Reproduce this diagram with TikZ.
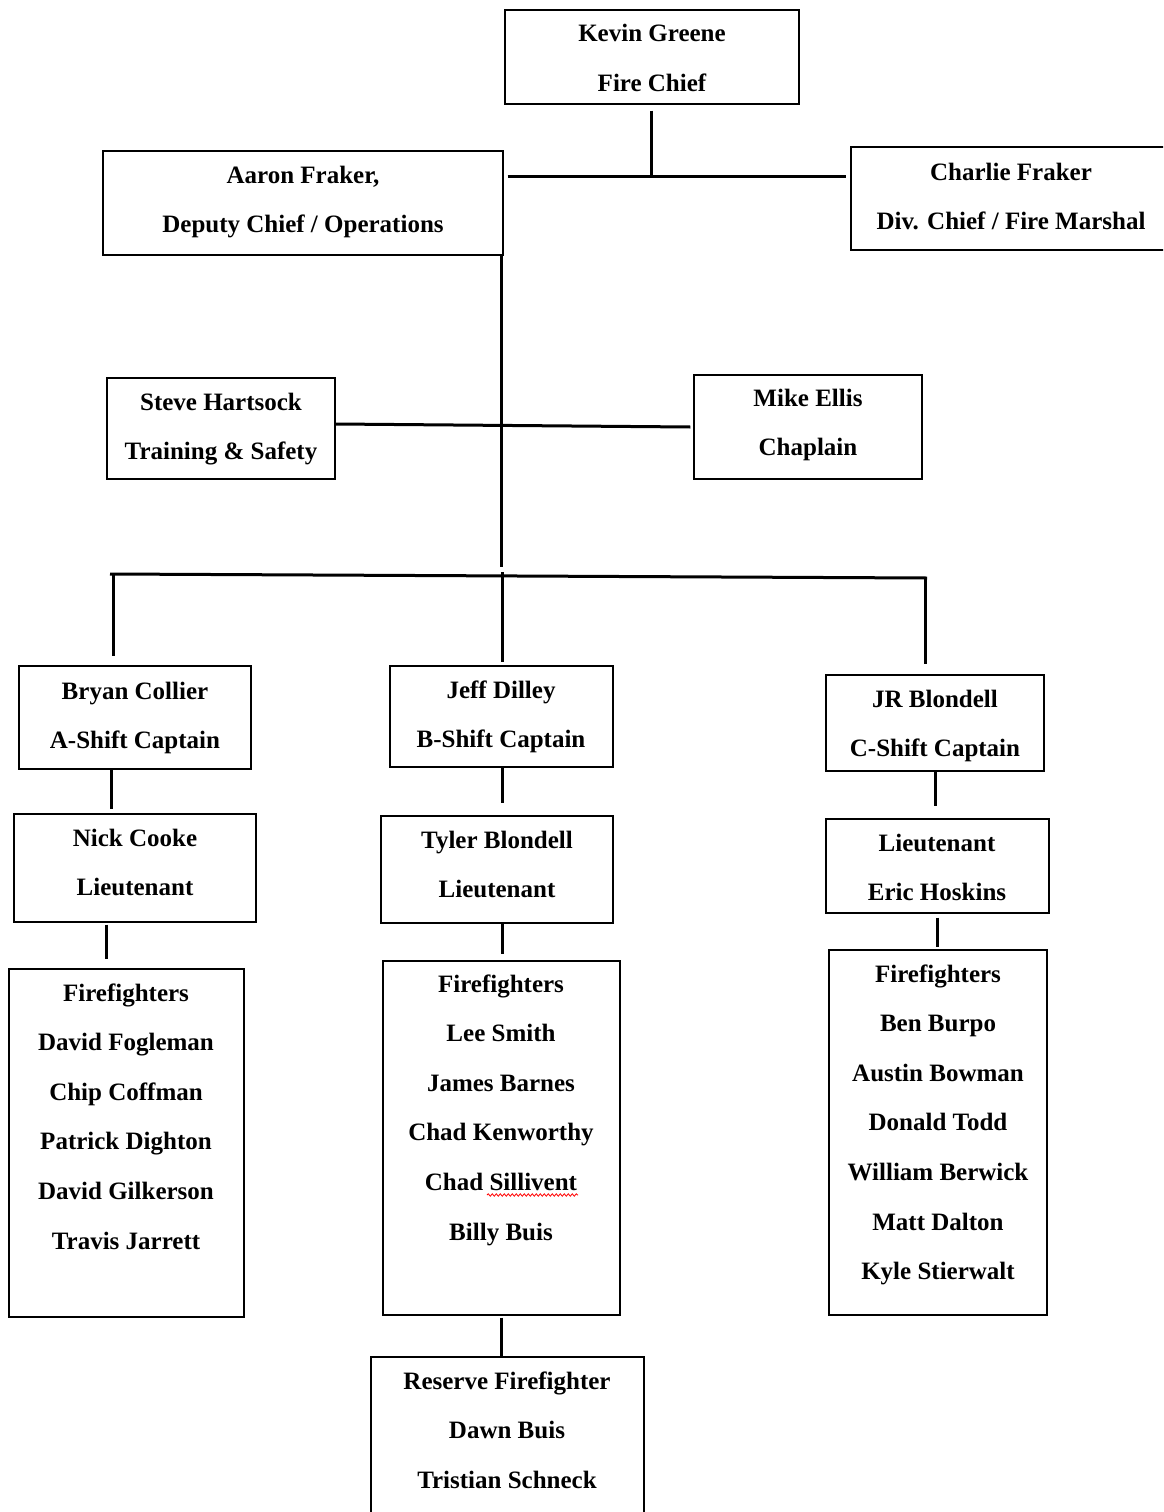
\documentclass[tikz,border=0pt]{standalone}
\usepackage{fontspec}
\setmainfont{Liberation Serif}
\usetikzlibrary{decorations.pathmorphing}
\tikzset{
  box/.style={draw, line width=1.2pt, rectangle, inner sep=0pt},
  txt/.style={font=\fontsize{25}{30}\selectfont\bfseries, anchor=base, inner sep=0pt},
  conn/.style={line width=3pt},
}
% name, left, top, right, bottom, text centre x, first line centre y, lines
\newcommand\OrgBox[8]{%
  \node[box, minimum width={#4-#2}, minimum height={#5-#3}] (#1) at ({(#2+#4)/2},{(#3+#5)/2}) {};
  \foreach \t [count=\i] in {#8} \node[txt] (#1-\i) at (#6,{#7+8+49.6*(\i-1)}) {\t};
}
\begin{document}
\begin{tikzpicture}[x=1pt,y=-1pt]
\fill[white] (0,0) rectangle (1163,1512);
\useasboundingbox (0,0) rectangle (1163,1512);
\clip (0,0) rectangle (1163,1512);

\OrgBox{kevin}{505}{10}{799}{104}{652}{34}{Kevin Greene,Fire Chief}
\OrgBox{aaron}{103}{151}{503}{255}{303}{175}{{Aaron Fraker,},Deputy Chief / Operations}
\OrgBox{charlie}{851}{147}{1172}{250}{1011}{172}{Charlie Fraker,Div. Chief / Fire Marshal}
\OrgBox{steve}{107}{378}{335}{479}{221}{402}{Steve Hartsock,Training \& Safety}
\OrgBox{mike}{694}{375}{922}{479}{808}{398}{Mike Ellis,Chaplain}
\OrgBox{bryan}{19}{666}{251}{769}{135}{691}{Bryan Collier,A-Shift Captain}
\OrgBox{jeff}{390}{666}{613}{767}{501}{690}{Jeff Dilley,B-Shift Captain}
\OrgBox{jr}{826}{675}{1044}{771}{935}{699}{JR Blondell,C-Shift Captain}
\OrgBox{nick}{14}{814}{256}{922}{135}{838}{Nick Cooke,Lieutenant}
\OrgBox{tyler}{381}{816}{613}{923}{497}{840}{Tyler Blondell,Lieutenant}
\OrgBox{eric}{826}{819}{1049}{913}{937}{843}{Lieutenant,Eric Hoskins}
\OrgBox{ffa}{9}{969}{244}{1317}{126}{993}{Firefighters,David Fogleman,Chip Coffman,Patrick Dighton,David Gilkerson,Travis Jarrett}
\OrgBox{ffb}{383}{961}{620}{1315}{501}{984}{Firefighters,Lee Smith,James Barnes,Chad Kenworthy,Chad Sillivent,Billy Buis}
\OrgBox{ffc}{829}{950}{1047}{1315}{938}{974}{Firefighters,Ben Burpo,Austin Bowman,Donald Todd,William Berwick,Matt Dalton,Kyle Stierwalt}
\OrgBox{reserve}{371}{1357}{644}{1540}{507}{1381}{Reserve Firefighter,Dawn Buis,Tristian Schneck}

% spell-check underline
\draw[red, line width=0.8pt, decorate, decoration={snake, amplitude=1.2pt, segment length=4pt}] (487,1195) -- (578,1195);

% top level
\coordinate (j1) at (651,176);
\draw[conn] ([yshift=-6pt]kevin.south -| j1) -- (j1);
\draw[conn] ([xshift=4pt]aaron.east |- j1) -- ([xshift=-4pt]charlie.west |- j1);

% spine
\coordinate (s1) at (501,567);
\draw[conn] (aaron.south -| s1) -- (s1);
\draw[conn] ([yshift=4.5pt]steve.east) -- ([xshift=-3pt]mike.west);

% shift bar
\coordinate (bl) at (110,574);
\coordinate (br) at (927,578);
\draw[conn] (bl) -- (br);
\coordinate (dA) at (113,574);
\coordinate (dB) at (502,572);
\coordinate (dC) at (925,578);
\draw[conn] (dA) -- ([yshift=9pt]dA |- bryan.north);
\draw[conn] (dB) -- ([yshift=3pt]dB |- jeff.north);
\draw[conn] (dC) -- ([yshift=10pt]dC |- jr.north);

% A shift
\coordinate (xA1) at (111,0);
\coordinate (xA2) at (106,0);
\draw[conn] (bryan.south -| xA1) -- ([yshift=4pt]nick.north -| xA1);
\draw[conn] ([yshift=-2pt]nick.south -| xA2) -- ([yshift=9pt]ffa.north -| xA2);

% B shift
\coordinate (xB) at (502,0);
\coordinate (xB2) at (501,0);
\draw[conn] (jeff.south -| xB) -- ([yshift=12pt]tyler.north -| xB);
\draw[conn] (tyler.south -| xB) -- ([yshift=6pt]ffb.north -| xB);
\draw[conn] ([yshift=-2pt]ffb.south -| xB2) -- (reserve.north -| xB2);

% C shift
\coordinate (xC1) at (935,0);
\coordinate (xC2) at (937,0);
\draw[conn] (jr.south -| xC1) -- ([yshift=12pt]eric.north -| xC1);
\draw[conn] ([yshift=-4pt]eric.south -| xC2) -- ([yshift=2pt]ffc.north -| xC2);
\end{tikzpicture}
\end{document}
